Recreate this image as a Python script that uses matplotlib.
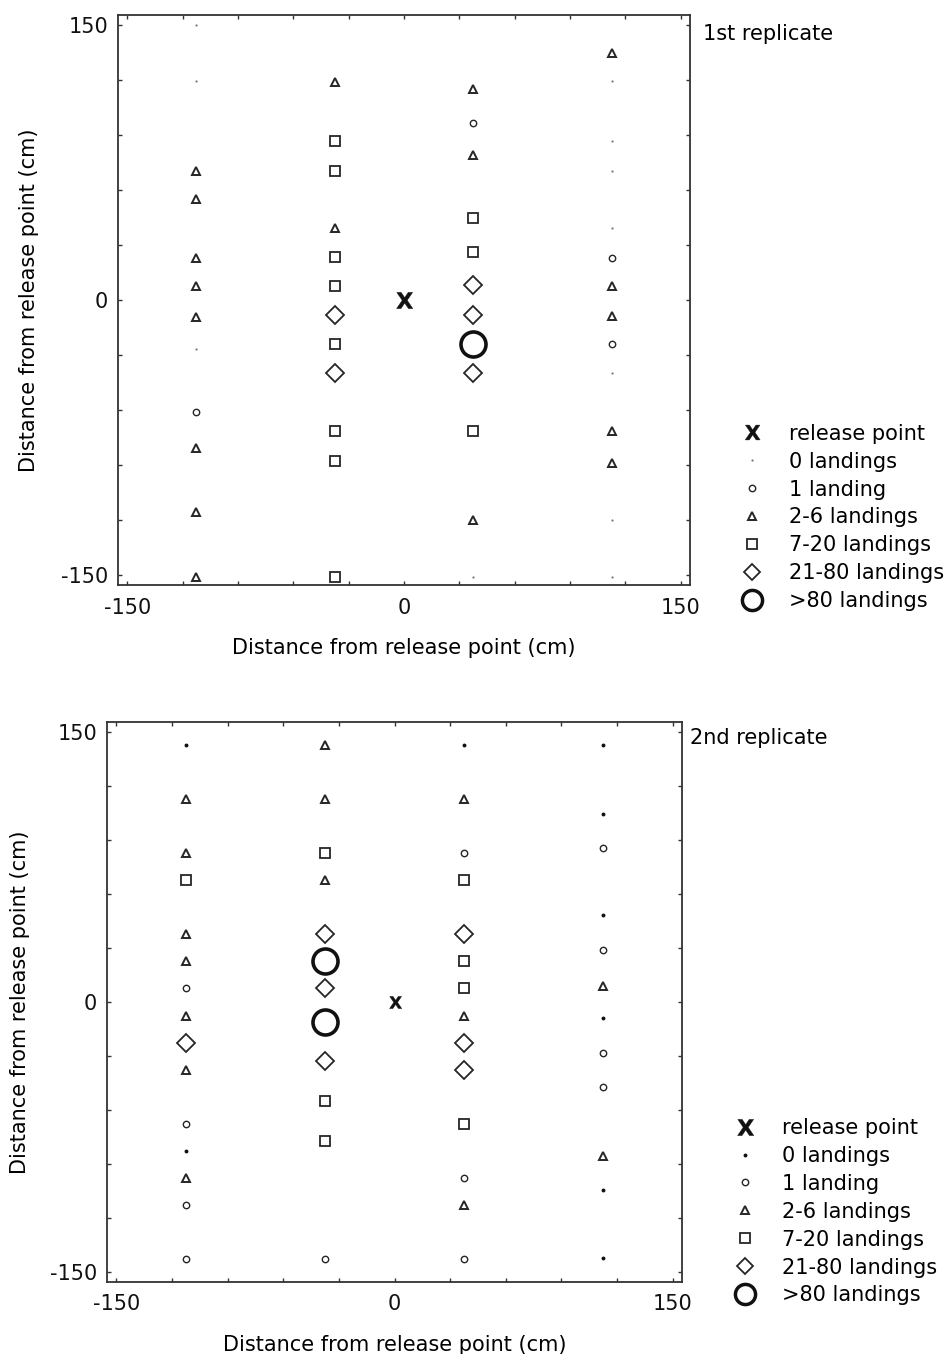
import numpy as np
import matplotlib
matplotlib.use("Agg")
import matplotlib.pyplot as plt
from matplotlib.lines import Line2D
from matplotlib.path import Path
from matplotlib.textpath import TextPath
from matplotlib.font_manager import FontProperties

plt.rcParams['font.family'] = ['DejaVu Sans']
plt.rcParams['axes.unicode_minus'] = False

# landing categories: 0 = 0 landings, 1 = 1 landing, 2 = 2-6, 3 = 7-20, 4 = 21-80, 5 = >80
cat_labels = ["0 landings", "1 landing", "2-6 landings", "7-20 landings",
              "21-80 landings", ">80 landings"]

col_x = [-112.5, -37.5, 37.5, 112.5]

# 1st replicate, one list per trap column
rep1_y = [
    [150, 119.3, 70.6, 55.3, 23.0, 7.7, -9.3, -26.8, -61.3, -80.5, -115.8, -151],
    [118.8, 86.8, 70.6, 39.4, 23.5, 7.7, -8.2, -24.1, -40.0, -71.7, -88.1, -151],
    [114.9, 96.8, 79.3, 44.9, 26.3, 8.2, -8.2, -24.1, -40.0, -71.7, -119.9, -151],
    [134.6, 119.3, 86.8, 70.6, 39.4, 23.0, 7.7, -8.8, -24.1, -40.0, -71.7, -88.7, -119.9, -151],
]
rep1_cat = [
    [0, 0, 2, 2, 2, 2, 2, 0, 1, 2, 2, 2],
    [2, 3, 3, 2, 3, 3, 4, 3, 4, 3, 3, 3],
    [2, 1, 2, 3, 3, 4, 4, 5, 4, 3, 2, 0],
    [2, 0, 0, 0, 0, 1, 2, 2, 1, 0, 2, 2, 0, 0],
]

# 2nd replicate
rep2_y = [
    [142.5, 112.5, 82.5, 67.5, 37.5, 22.5, 7.5, -7.5, -22.5, -37.5, -67.5, -82.5, -97.5, -112.5, -142.5],
    [142.5, 112.5, 82.5, 67.5, 37.5, 22.5, 7.7, -11.0, -33.0, -54.8, -77.0, -142.5],
    [142.5, 112.5, 82.5, 67.5, 37.5, 22.5, 7.5, -7.5, -22.5, -37.5, -67.5, -97.5, -112.5, -142.5],
    [142.5, 104.6, 85.4, 48.1, 28.8, 8.9, -9.0, -28.4, -47.0, -85.8, -104.6, -142.2],
]
rep2_cat = [
    [0, 2, 2, 3, 2, 2, 1, 2, 4, 2, 1, 0, 2, 1, 1],
    [2, 2, 3, 2, 4, 5, 4, 5, 4, 3, 3, 1],
    [0, 2, 1, 3, 4, 3, 3, 2, 4, 4, 3, 1, 2, 1],
    [0, 0, 1, 0, 1, 2, 0, 1, 1, 2, 0, 0],
]

release_x, release_y = 0, 0
ticks = list(range(-150, 151, 30))
tick_labels = ["-150" if t == -150 else "0" if t == 0 else "150" if t == 150 else "" for t in ticks]

ink = "#262626"


def x_marker():
    tp = TextPath((0, 0), "X", prop=FontProperties(family="DejaVu Sans", weight="bold"))
    v = tp.vertices.copy()
    c = (v.min(axis=0) + v.max(axis=0)) / 2
    return Path(v - c, tp.codes)


XM = x_marker()


def styles(dot_color, dot_size, legend=False):
    if legend:
        sizes = [4.6, 5.4, 7.2, 7.8, 14.5]
        big_w = 2.5
    else:
        sizes = [4.6, 5.8, 7.6, 9.6, 18]
        big_w = 2.6
    return [
        dict(marker="o", ms=dot_size, mfc=dot_color, mec=dot_color, mew=0),
        dict(marker="o", ms=sizes[0], mfc="none", mec=ink, mew=1.0),
        dict(marker="^", ms=sizes[1], mfc="none", mec=ink, mew=1.4),
        dict(marker="s", ms=sizes[2], mfc="none", mec=ink, mew=1.3),
        dict(marker="D", ms=sizes[3], mfc="none", mec=ink, mew=1.3),
        dict(marker="o", ms=sizes[4], mfc="none", mec="#111111", mew=big_w),
    ]


def panel(ax, ys, cats, title, dot_color, dot_size, xsize, leg_xsize, leg_anchor,
          title_pos, ylabelpad):
    st = styles(dot_color, dot_size)
    for cx, col_y, col_c in zip(col_x, ys, cats):
        col_y = np.array(col_y)
        col_c = np.array(col_c)
        for k in range(6):
            sel = col_c == k
            if sel.any():
                ax.plot(np.full(sel.sum(), cx), col_y[sel], ls="none", **st[k])
    ax.plot([release_x], [release_y], ls="none", marker=XM, ms=xsize,
            mfc="#111111", mec="#111111", mew=0.3)

    ax.set_xlim(-155, 155)
    ax.set_ylim(-155.5, 155.5)
    ax.set_xticks(ticks)
    ax.set_xticklabels(tick_labels)
    ax.set_yticks(ticks)
    ax.set_yticklabels(tick_labels)
    ax.tick_params(direction="in", length=3, width=1, top=True, right=True,
                   labelsize=15, colors="#333333", labelcolor="#111111")
    ax.tick_params(axis="x", pad=9)
    ax.tick_params(axis="y", pad=7)
    for s in ax.spines.values():
        s.set_linewidth(1.3)
        s.set_color("#333333")
    ax.set_xlabel("Distance from release point (cm)", fontsize=15, labelpad=15)
    ax.set_ylabel("Distance from release point (cm)", fontsize=15, labelpad=ylabelpad)
    ax.text(title_pos[0], title_pos[1], title, transform=ax.transAxes,
            fontsize=15, ha="left", va="center")

    lst = styles(dot_color, dot_size, legend=True)
    handles = [Line2D([], [], ls="none", marker=XM, ms=leg_xsize,
                      mfc="#111111", mec="#111111", mew=0.3)]
    handles += [Line2D([], [], ls="none", **s) for s in lst]
    labels = ["release point"] + cat_labels
    ax.legend(handles, labels, loc="upper left", bbox_to_anchor=leg_anchor,
              frameon=False, fontsize=15, handlelength=1.0, handletextpad=1.25,
              labelspacing=0.38, borderpad=0, borderaxespad=0)


fig = plt.figure(figsize=(9.5, 13.54), dpi=100)
ax1 = fig.add_axes([118 / 950, 1 - 585 / 1354, 572 / 950, 570 / 1354])
ax2 = fig.add_axes([107 / 950, 1 - 1282 / 1354, 575 / 950, 560 / 1354])

panel(ax1, rep1_y, rep1_cat, "1st replicate", "#777777", 1.6, 12, 11,
      (1.091, 0.283), (1.023, 0.967), 15.5)
panel(ax2, rep2_y, rep2_cat, "2nd replicate", "#111111", 2.8, 9, 12,
      (1.092, 0.293), (1.014, 0.971), 14.5)

fig.savefig("out.png", dpi=100)
